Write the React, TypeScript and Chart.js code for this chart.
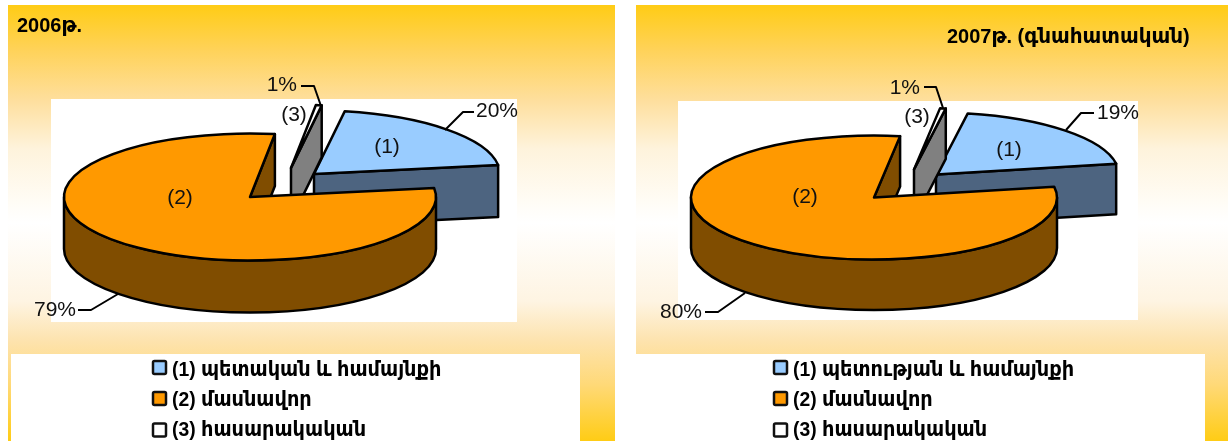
import React, { useEffect, useRef } from "react";
import { Chart, registerables } from "chart.js";

Chart.register(...registerables);

const categories2006 = ["(1) պետական և համայնքի", "(2) մասնավոր", "(3) հասարակական"];
const categories2007 = ["(1) պետության և համայնքի", "(2) մասնավոր", "(3) հասարակական"];
const values2006 = [20, 79, 0.5];
const values2007 = [19.4, 80, 0.5];
const percentLabels2006 = ["20%", "79%", "1%"];
const percentLabels2007 = ["19%", "80%", "1%"];
const sliceTags = ["(1)", "(2)", "(3)"];
const topColors = ["#99CCFF", "#FF9900", "#FFFFFF"];
const wallColors = ["#4D6480", "#804D00", "#808080"];

const TEXT_FONT = '"Liberation Sans", "DejaVu Sans", sans-serif';
const BOLD_FONT = 'bold 21px "Liberation Sans", "DejaVu Sans", sans-serif';

const layout2006 = {
  title: "2006թ.", titleX: 17, titleY: 26,
  rotation: 9.5, cx: 250, cy: 197, rx: 186, ry: 63.5, depth: 52,
  shift: [[64, -23], [0, 0], [41, -29]],
  tagPos: [[387, 147], [180, 198], [294, 115]],
  pctPos: [[476, 111, "left"], [76, 310, "right"], [297, 85, "right"]],
  leaders: [
    [[445, 130], [463, 112], [474, 112]],
    [[118, 294], [91, 310], [78, 310]],
    [[321, 106], [314, 86], [301, 86]],
  ],
  legendX: 152, legendTextX: 172,
};
const layout2007 = {
  title: "2007թ. (գնահատական)", titleX: 947, titleY: 37,
  rotation: 10, cx: 874, cy: 197.5, rx: 183, ry: 62, depth: 50.5,
  shift: [[62, -23], [0, 0], [40, -28]],
  tagPos: [[1009, 150], [805, 197], [917, 117]],
  pctPos: [[1097, 113, "left"], [702, 312, "right"], [920, 88, "right"]],
  leaders: [
    [[1066, 130], [1081, 113], [1094, 113]],
    [[745, 293], [718, 312], [705, 312]],
    [[943, 108], [936, 87], [924, 87]],
  ],
  legendX: 773, legendTextX: 793,
};

const W = 1228;
const H = 441;
const LEGEND_TEXT_Y = [370, 400, 430];
const LEGEND_BOX_Y = [367.5, 398.5, 430];

function squeezedText(ctx: any, text: string, x: number, y: number, sx: number) {
  ctx.save();
  ctx.translate(x, y);
  ctx.scale(sx, 1);
  ctx.fillText(text, 0, 0);
  ctx.restore();
}

function pie3dPlugin(cfg: any, pctLabels: string[]) {
  return {
    id: "pie3d",
    beforeDatasetDraw(chart: any) {
      const ctx = chart.ctx;
      const meta = chart.getDatasetMeta(0);
      const k = cfg.ry / cfg.rx;
      ctx.save();
      ctx.lineJoin = "round";
      ctx.lineWidth = 2.5;
      ctx.strokeStyle = "#000";
      for (const i of [0, 2, 1]) {
        const el = meta.data[i];
        const { x, y, startAngle: a, endAngle: b, outerRadius: r } = el;
        const ox = x + cfg.shift[i][0];
        const oy = y + cfg.shift[i][1];
        const rx = r;
        const ry = r * k;
        const d = cfg.depth;
        const px = (t: number) => ox + rx * Math.cos(t);
        const py = (t: number) => oy + ry * Math.sin(t);
        ctx.fillStyle = wallColors[i];
        if (Math.cos(b) > 0) {
          ctx.beginPath();
          ctx.moveTo(ox, oy);
          ctx.lineTo(px(b), py(b));
          ctx.lineTo(px(b), py(b) + d);
          ctx.lineTo(ox, oy + d);
          ctx.closePath();
          ctx.fill();
          ctx.stroke();
        }
        if (-Math.cos(a) > 0) {
          ctx.beginPath();
          ctx.moveTo(ox, oy);
          ctx.lineTo(px(a), py(a));
          ctx.lineTo(px(a), py(a) + d);
          ctx.lineTo(ox, oy + d);
          ctx.closePath();
          ctx.fill();
          ctx.stroke();
        }
        const from = Math.max(a, 0);
        const to = Math.min(b, Math.PI);
        if (to > from) {
          ctx.beginPath();
          ctx.ellipse(ox, oy, rx, ry, 0, from, to);
          ctx.lineTo(px(to), py(to) + d);
          ctx.ellipse(ox, oy + d, rx, ry, 0, to, from, true);
          ctx.closePath();
          ctx.fill();
          ctx.stroke();
        }
        // top face: the library's own arc, squashed
        ctx.save();
        ctx.translate(ox, oy);
        ctx.scale(1, k);
        ctx.translate(-x, -y);
        el.draw(ctx);
        ctx.restore();
        ctx.beginPath();
        ctx.moveTo(ox, oy);
        ctx.ellipse(ox, oy, rx, ry, 0, a, b);
        ctx.closePath();
        ctx.stroke();
      }
      ctx.restore();
      return false;
    },
    afterDraw(chart: any) {
      const ctx = chart.ctx;
      ctx.save();
      ctx.lineJoin = "round";
      ctx.strokeStyle = "#000";
      ctx.lineWidth = 2;
      for (const line of cfg.leaders) {
        ctx.beginPath();
        line.forEach((p: number[], j: number) => (j ? ctx.lineTo(p[0], p[1]) : ctx.moveTo(p[0], p[1])));
        ctx.stroke();
      }
      ctx.fillStyle = "#111";
      ctx.textBaseline = "middle";
      ctx.font = `21px ${TEXT_FONT}`;
      pctLabels.forEach((t, i) => {
        const [px, py, al] = cfg.pctPos[i];
        ctx.textAlign = al;
        ctx.fillText(t, px, py);
      });
      ctx.textAlign = "center";
      sliceTags.forEach((t, i) => ctx.fillText(t, cfg.tagPos[i][0], cfg.tagPos[i][1]));

      ctx.textAlign = "left";
      ctx.fillStyle = "#000";
      ctx.font = BOLD_FONT;
      squeezedText(ctx, cfg.title, cfg.titleX, cfg.titleY, 0.95);

      chart.data.labels.forEach((t: string, i: number) => {
        ctx.fillStyle = topColors[i];
        ctx.strokeStyle = "#111";
        ctx.lineWidth = 2.5;
        ctx.beginPath();
        ctx.roundRect(cfg.legendX + 1, LEGEND_BOX_Y[i] - 6.5, 13, 13, 1.5);
        ctx.fill();
        ctx.stroke();
        ctx.fillStyle = "#000";
        squeezedText(ctx, t, cfg.legendTextX, LEGEND_TEXT_Y[i], 0.92);
      });
      ctx.restore();
    },
  };
}

function PieCanvas({ cfg, labels, values, pct }: any) {
  const ref = useRef<HTMLCanvasElement>(null);
  useEffect(() => {
    const cx = cfg.cx;
    const cy = cfg.cy;
    const chart = new Chart(ref.current as HTMLCanvasElement, {
      type: "pie",
      data: {
        labels,
        datasets: [{ data: values, backgroundColor: topColors, borderWidth: 0 }],
      },
      options: {
        responsive: false,
        animation: false,
        rotation: cfg.rotation,
        radius: cfg.rx,
        events: [],
        layout: {
          padding: {
            left: Math.max(0, 2 * cx - W),
            right: Math.max(0, W - 2 * cx),
            top: Math.max(0, 2 * cy - H),
            bottom: Math.max(0, H - 2 * cy),
          },
        },
        plugins: { legend: { display: false }, tooltip: { enabled: false }, title: { display: false } },
      } as any,
      plugins: [pie3dPlugin(cfg, pct) as any],
    });
    return () => chart.destroy();
  }, []);
  return (
    <canvas
      ref={ref}
      width={W}
      height={H}
      style={{ position: "absolute", left: 0, top: 0, width: W, height: H }}
    />
  );
}

const box = (left: number, top: number, right: number, bottom: number, background: string): React.CSSProperties => ({
  position: "absolute",
  left,
  top,
  width: right - left,
  height: bottom - top,
  background,
});

const GRADIENT =
  "linear-gradient(180deg, #FFCC15 0%, #FFD257 10%, #FEDF9E 22%, #FEF3DC 33%, #FFFCF5 45%, #FFFFFF 50%, #FEF4E2 68%, #FDE3AE 77%, #FFD978 87%, #FFCC15 100%)";

export default function App() {
  return (
    <div style={{ position: "relative", width: W, height: H, overflow: "hidden", background: "#fff" }}>
      <style>{`html,body{margin:0;padding:0;overflow:hidden;background:#fff}`}</style>
      <div style={box(8, 5, 615, 441, GRADIENT)} />
      <div style={box(636, 5, 1228, 441, GRADIENT)} />
      <div style={box(51, 99, 517, 322, "#fff")} />
      <div style={box(678, 101, 1138, 320, "#fff")} />
      <div style={box(11, 354, 580, 441, "#fff")} />
      <div style={box(636, 354, 1205, 441, "#fff")} />
      <PieCanvas cfg={layout2006} labels={categories2006} values={values2006} pct={percentLabels2006} />
      <PieCanvas cfg={layout2007} labels={categories2007} values={values2007} pct={percentLabels2007} />
    </div>
  );
}
